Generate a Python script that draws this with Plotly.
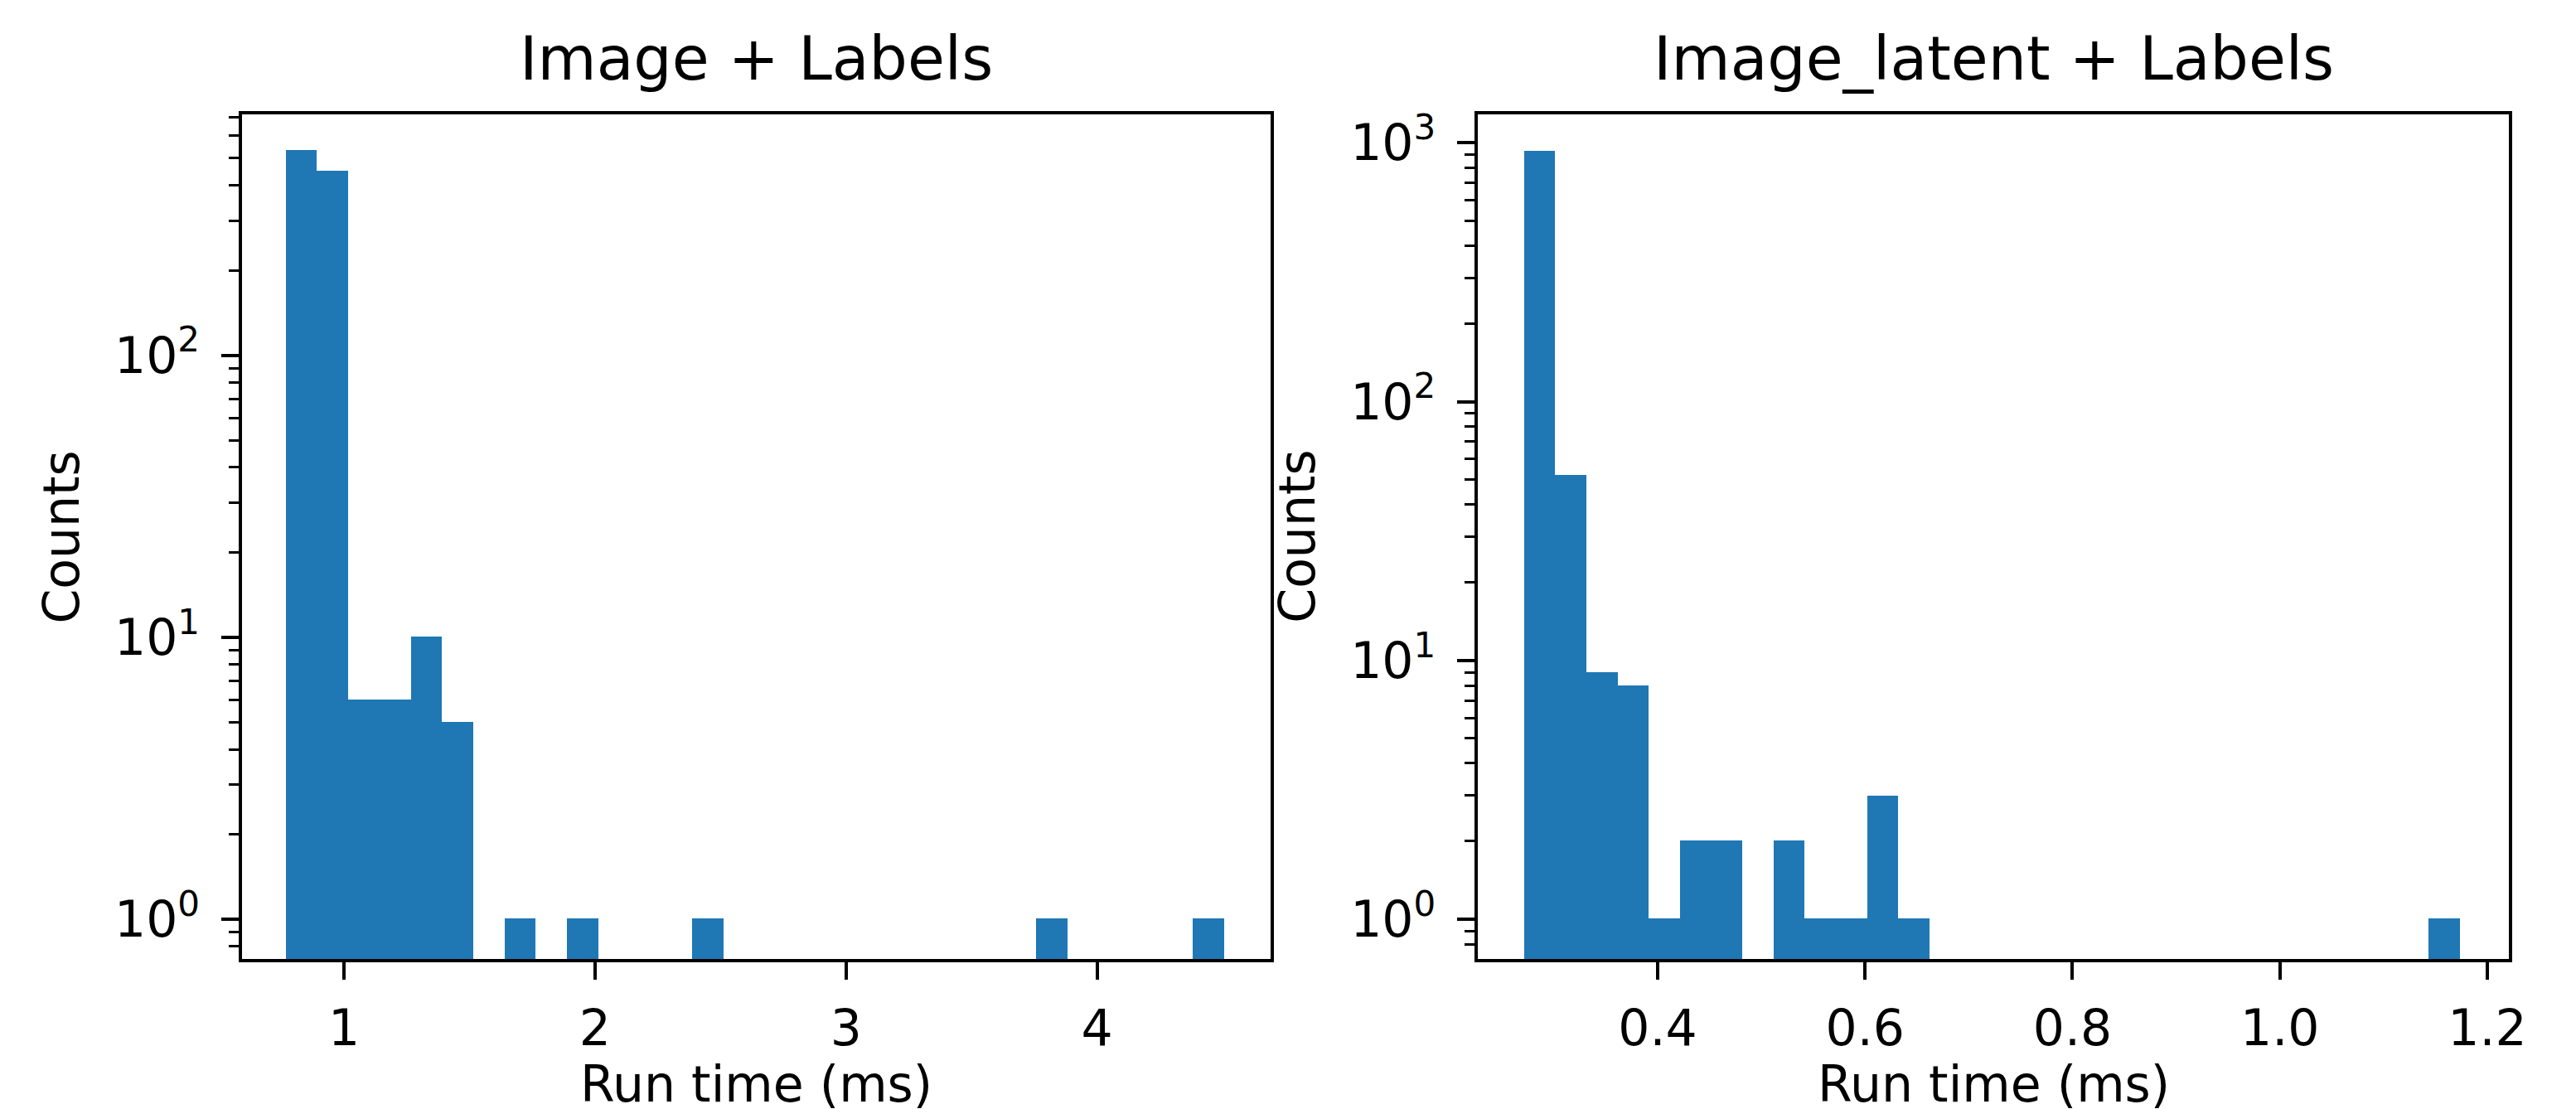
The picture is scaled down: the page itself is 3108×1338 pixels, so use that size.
import numpy as np
import plotly.graph_objects as go

# ---------------- data ----------------
left_title = "Image + Labels"
right_title = "Image_latent + Labels"
x_label = "Run time (ms)"
y_label = "Counts"

# 30 equal-width histogram bins for each panel
left_bin_min, left_bin_max = 0.7675, 4.506
left_counts = [534, 450, 6, 6, 10, 5, 0, 1, 0, 1,
               0, 0, 0, 1, 0, 0, 0, 0, 0, 0,
               0, 0, 0, 0, 1, 0, 0, 0, 0, 1]

right_bin_min, right_bin_max = 0.2714, 1.1736
right_counts = [930, 52, 9, 8, 1, 2, 2, 0, 2, 1,
                1, 3, 1, 0, 0, 0, 0, 0, 0, 0,
                0, 0, 0, 0, 0, 0, 0, 0, 0, 1]

left_xticks = [1, 2, 3, 4]
left_xticktext = ["1", "2", "3", "4"]
right_xticks = [0.4, 0.6, 0.8, 1.0, 1.2]
right_xticktext = ["0.4", "0.6", "0.8", "1.0", "1.2"]
left_yticks = [1, 10, 100]
right_yticks = [1, 10, 100, 1000]

# ---------------- styling ----------------
W, H = 3108, 1338
BLUE = "#1f77b4"
FONT = "DejaVu Sans"
TICK_FS = 60
TITLE_FS = 73

def px_x(p):
    return p / W

def px_y(p):
    return 1 - p / H

AX_TOP, AX_BOT = 122.3, 1147.7
L_LEFT, L_RIGHT = 286.0, 1535.0
R_LEFT, R_RIGHT = 1787.3, 3040.0


def bar_trace(bmin, bmax, counts, xa, ya):
    edges = np.linspace(bmin, bmax, len(counts) + 1)
    centers = (edges[:-1] + edges[1:]) / 2
    width = edges[1] - edges[0]
    ys = [c if c > 0 else None for c in counts]
    return go.Bar(x=centers, y=ys, width=width, marker=dict(color=BLUE, line=dict(width=0)),
                  xaxis=xa, yaxis=ya, showlegend=False, hoverinfo="x+y")


def minor_vals(lo, hi):
    vals = []
    for dec in range(-1, 4):
        for m in range(2, 10):
            v = m * 10 ** dec
            if lo <= np.log10(v) <= hi:
                vals.append(v)
    return vals


fig = go.Figure()
fig.add_trace(bar_trace(left_bin_min, left_bin_max, left_counts, "x", "y"))
fig.add_trace(bar_trace(right_bin_min, right_bin_max, right_counts, "x2", "y2"))

common_axis = dict(
    showline=True, linecolor="black", linewidth=4, mirror=True,
    ticks="outside", ticklen=21, tickwidth=4, tickcolor="black",
    showgrid=False, zeroline=False,
    tickfont=dict(family=FONT, size=TICK_FS, color="black"),
)

ly_range = [-0.1413, 2.853]
ry_range = [-0.154, 3.109]

fig.update_layout(
    width=W, height=H,
    margin=dict(l=0, r=0, t=0, b=0),
    paper_bgcolor="white", plot_bgcolor="white",
    bargap=0,
    font=dict(family=FONT, color="black"),
    xaxis=dict(domain=[px_x(L_LEFT), px_x(L_RIGHT)], range=[0.594, 4.690],
               tickvals=left_xticks, ticktext=left_xticktext, anchor="y",
               ticklabelstandoff=7, **common_axis),
    yaxis=dict(domain=[px_y(AX_BOT), px_y(AX_TOP)], type="log", range=ly_range,
               tickvals=left_yticks,
               ticktext=[f"10<sup>{int(np.log10(v))}</sup>" for v in left_yticks],
               minor=dict(ticks="outside", ticklen=12, tickwidth=3, tickcolor="black",
                          tickvals=minor_vals(*ly_range), showgrid=False),
               anchor="x", ticklabelstandoff=14, **common_axis),
    xaxis2=dict(domain=[px_x(R_LEFT), px_x(R_RIGHT)], range=[0.2268, 1.2212],
                tickvals=right_xticks, ticktext=right_xticktext, anchor="y2",
                ticklabelstandoff=7, **common_axis),
    yaxis2=dict(domain=[px_y(AX_BOT), px_y(AX_TOP)], type="log", range=ry_range,
                tickvals=right_yticks,
                ticktext=[f"10<sup>{int(np.log10(v))}</sup>" for v in right_yticks],
                minor=dict(ticks="outside", ticklen=12, tickwidth=3, tickcolor="black",
                           tickvals=minor_vals(*ry_range), showgrid=False),
                anchor="x2", ticklabelstandoff=14, **common_axis),
)

annos = []
for (l, r, title) in [(L_LEFT, L_RIGHT, left_title), (R_LEFT, R_RIGHT, right_title)]:
    cx = px_x((l + r) / 2)
    annos.append(dict(text=title, x=cx, y=px_y(54), xref="paper", yref="paper",
                      xanchor="center", yanchor="middle", showarrow=False,
                      font=dict(family=FONT, size=TITLE_FS, color="black")))
    annos.append(dict(text=x_label, x=cx, y=px_y(1300), xref="paper", yref="paper",
                      xanchor="center", yanchor="middle", showarrow=False,
                      font=dict(family=FONT, size=TICK_FS, color="black")))
    annos.append(dict(text=y_label, x=px_x(l - 219.7), y=px_y((AX_TOP + AX_BOT) / 2),
                      xref="paper", yref="paper", xanchor="center", yanchor="middle",
                      textangle=-90, showarrow=False,
                      font=dict(family=FONT, size=TICK_FS, color="black")))
fig.update_layout(annotations=annos)

fig.write_html("out.html")
